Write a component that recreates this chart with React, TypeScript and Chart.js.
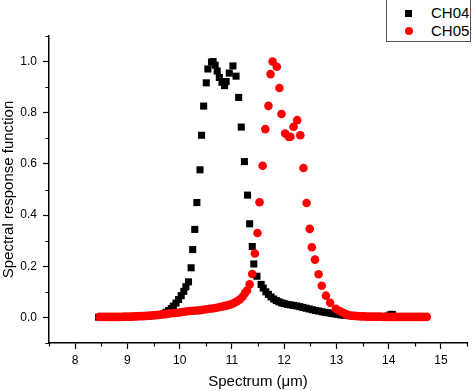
import { useEffect, useRef } from "react";
import { Chart, registerables } from "chart.js";

Chart.register(...registerables);

// CH04 (black squares)
const ch04X = [
  8.45, 8.51, 8.57, 8.63, 8.69, 8.75, 8.81, 8.87, 8.93, 8.99,
  9.05, 9.11, 9.17, 9.23, 9.29, 9.35, 9.41, 9.47, 9.53, 9.59,
  9.64, 9.69, 9.74, 9.79, 9.84, 9.88, 9.93, 9.98, 10.03, 10.08,
  10.12, 10.17, 10.22, 10.25, 10.29, 10.33, 10.39, 10.42, 10.46, 10.51,
  10.54, 10.61, 10.64, 10.68, 10.72, 10.76, 10.81, 10.86, 10.89, 10.95,
  11.02, 11.08, 11.13, 11.18, 11.24, 11.3, 11.34, 11.39, 11.42, 11.48,
  11.56, 11.6, 11.65, 11.7, 11.75, 11.8, 11.85, 11.9, 11.95, 12.0,
  12.06, 12.12, 12.18, 12.24, 12.3, 12.36, 12.42, 12.48, 12.54, 12.6,
  12.66, 12.72, 12.78, 12.84, 12.9, 12.96, 13.02, 13.08, 13.14, 13.2,
  13.26, 13.32, 13.38, 13.44, 13.5, 13.56, 13.62, 13.68, 13.74, 13.8,
  13.86, 13.92, 13.98, 14.03, 14.07,
];
const ch04Y = [
  0.001, 0.001, 0.001, 0.001, 0.001, 0.001, 0.002, 0.002, 0.002, 0.003,
  0.003, 0.003, 0.004, 0.004, 0.005, 0.005, 0.006, 0.007, 0.008, 0.009,
  0.011, 0.014, 0.02, 0.027, 0.035, 0.044, 0.056, 0.07, 0.085, 0.102,
  0.12, 0.139, 0.194, 0.265, 0.344, 0.449, 0.577, 0.712, 0.826, 0.917,
  0.971, 0.998, 1.0, 0.986, 0.963, 0.938, 0.919, 0.906, 0.922, 0.955,
  0.983, 0.943, 0.86, 0.744, 0.609, 0.478, 0.366, 0.277, 0.209, 0.161,
  0.129, 0.115, 0.1, 0.09, 0.08, 0.072, 0.066, 0.061, 0.057, 0.054,
  0.051, 0.049, 0.047, 0.045, 0.042, 0.039, 0.036, 0.033, 0.03, 0.027,
  0.025, 0.022, 0.02, 0.018, 0.016, 0.014, 0.012, 0.01, 0.009, 0.008,
  0.007, 0.006, 0.005, 0.005, 0.004, 0.004, 0.003, 0.003, 0.003, 0.003,
  0.003, 0.003, 0.005, 0.01, 0.012,
];

// CH05 (red circles)
const ch05X = [
  8.47, 8.53, 8.59, 8.65, 8.71, 8.77, 8.83, 8.89, 8.95, 9.01,
  9.07, 9.13, 9.19, 9.25, 9.31, 9.37, 9.43, 9.49, 9.55, 9.61,
  9.67, 9.73, 9.79, 9.85, 9.91, 9.97, 10.03, 10.09, 10.15, 10.21,
  10.27, 10.33, 10.39, 10.45, 10.51, 10.57, 10.63, 10.69, 10.75, 10.81,
  10.87, 10.93, 10.99, 11.05, 11.1, 11.15, 11.2, 11.25, 11.29, 11.34,
  11.39, 11.44, 11.49, 11.53, 11.59, 11.64, 11.7, 11.74, 11.78, 11.86,
  11.91, 11.95, 12.02, 12.09, 12.12, 12.18, 12.25, 12.31, 12.37, 12.43,
  12.49, 12.53, 12.59, 12.66, 12.72, 12.8, 12.88, 12.99, 13.06, 13.12,
  13.18, 13.23, 13.29, 13.35, 13.41, 13.47, 13.53, 13.59, 13.65, 13.71,
  13.77, 13.83, 13.89, 13.95, 14.01, 14.07, 14.13, 14.19, 14.25, 14.31,
  14.37, 14.43, 14.49, 14.55, 14.61, 14.67, 14.73,
];
const ch05Y = [
  0.002, 0.002, 0.002, 0.002, 0.002, 0.002, 0.002, 0.002, 0.003, 0.003,
  0.003, 0.004, 0.004, 0.005, 0.005, 0.006, 0.007, 0.008, 0.009, 0.01,
  0.012, 0.013, 0.015, 0.016, 0.017, 0.018, 0.02, 0.022, 0.024, 0.025,
  0.026, 0.027, 0.028, 0.03, 0.032, 0.034, 0.035, 0.037, 0.04, 0.042,
  0.045, 0.048, 0.052, 0.057, 0.063, 0.07, 0.08, 0.095, 0.105, 0.129,
  0.17, 0.25, 0.33, 0.45, 0.593, 0.736, 0.827, 0.951, 1.0, 0.98,
  0.897, 0.795, 0.719, 0.705, 0.706, 0.745, 0.771, 0.712, 0.584, 0.447,
  0.346, 0.274, 0.226, 0.169, 0.124, 0.085, 0.057, 0.034, 0.025, 0.019,
  0.013, 0.009, 0.007, 0.006, 0.005, 0.004, 0.004, 0.003, 0.003, 0.003,
  0.003, 0.003, 0.002, 0.002, 0.002, 0.002, 0.002, 0.002, 0.002, 0.002,
  0.002, 0.002, 0.002, 0.002, 0.002, 0.002, 0.002,
];

const seriesLabels = ["CH04", "CH05"];
const xTickValues = [8, 9, 10, 11, 12, 13, 14, 15];
const yTickValues = [0, 0.2, 0.4, 0.6, 0.8, 1.0];
const xTitle = "Spectrum (μm)";
const yTitle = "Spectral response function";

const FONT = "'Liberation Sans', Arial, Helvetica, sans-serif";

const minorTicks = {
  id: "minorTicks",
  afterDraw(chart: any) {
    const { ctx, scales } = chart;
    const x = scales.x;
    const y = scales.y;
    ctx.save();
    ctx.strokeStyle = "#000";
    ctx.lineWidth = 1.2;
    ctx.beginPath();
    for (let v = 7.5; v <= 15.5 + 1e-9; v += 1) {
      const px = Math.round(x.getPixelForValue(v)) + 0.5;
      ctx.moveTo(px, x.top);
      ctx.lineTo(px, x.top + 3.5);
    }
    for (let v = -0.1; v <= 1.1 + 1e-9; v += 0.2) {
      const py = Math.round(y.getPixelForValue(v)) + 0.5;
      ctx.moveTo(y.right, py);
      ctx.lineTo(y.right - 3.5, py);
    }
    ctx.stroke();
    ctx.restore();
  },
};

export default function App() {
  const ref = useRef<HTMLCanvasElement>(null);

  useEffect(() => {
    document.body.style.margin = "0";
    const chart = new Chart(ref.current as HTMLCanvasElement, {
      type: "scatter",
      data: {
        datasets: [
          {
            label: seriesLabels[0],
            data: ch04X.map((x, i) => ({ x, y: ch04Y[i] })),
            pointStyle: "rect",
            pointRadius: 5,
            pointHoverRadius: 5,
            backgroundColor: "#000",
            borderColor: "#000",
            borderWidth: 0,
            order: 2,
          },
          {
            label: seriesLabels[1],
            data: ch05X.map((x, i) => ({ x, y: ch05Y[i] })),
            pointStyle: "circle",
            pointRadius: 4.3,
            pointHoverRadius: 4.3,
            backgroundColor: "#f00",
            borderColor: "#f00",
            borderWidth: 0,
            order: 1,
          },
        ],
      },
      options: {
        responsive: false,
        animation: false,
        devicePixelRatio: 1,
        layout: { padding: { top: 36, right: 7, left: 0, bottom: 0 } },
        plugins: {
          legend: { display: false },
          tooltip: { enabled: false },
        },
        scales: {
          x: {
            type: "linear",
            min: 7.5,
            max: 15.5,
            afterFit: (s: any) => {
              s.height = 48;
            },
            afterBuildTicks: (s: any) => {
              s.ticks = xTickValues.map((value) => ({ value }));
            },
            ticks: {
              padding: 4,
              color: "#000",
              maxRotation: 0,
              autoSkip: false,
              font: { family: FONT, size: 12 },
              callback: (v: any) => String(v),
            },
            grid: {
              drawOnChartArea: false,
              drawTicks: true,
              tickLength: 6,
              tickColor: "#000",
              tickWidth: 1.2,
            },
            border: { display: true, color: "#000", width: 1.5 },
            title: {
              display: true,
              text: xTitle,
              color: "#000",
              padding: { top: 0, bottom: 0 },
              font: { family: FONT, size: 15 },
            },
          },
          y: {
            type: "linear",
            min: -0.1,
            max: 1.1,
            afterFit: (s: any) => {
              s.width = 49;
            },
            afterBuildTicks: (s: any) => {
              s.ticks = yTickValues.map((value) => ({ value }));
            },
            ticks: {
              padding: 6,
              color: "#000",
              autoSkip: false,
              font: { family: FONT, size: 12 },
              callback: (v: any) => Number(v).toFixed(1),
            },
            grid: {
              drawOnChartArea: false,
              drawTicks: true,
              tickLength: 6,
              tickColor: "#000",
              tickWidth: 1.2,
            },
            border: { display: true, color: "#000", width: 1.5 },
            title: {
              display: true,
              text: yTitle,
              color: "#000",
              padding: { top: 0, bottom: 0 },
              font: { family: FONT, size: 15 },
            },
          },
        },
      },
      plugins: [minorTicks],
    } as any);
    return () => chart.destroy();
  }, []);

  return (
    <div style={{ position: "relative", width: 474, height: 391, background: "#fff" }}>
      <canvas ref={ref} width={474} height={391} style={{ display: "block" }} />
      <div
        style={{
          position: "absolute",
          left: 386,
          top: -1,
          width: 83,
          height: 41,
          border: "1px solid #555",
          background: "#fff",
          fontFamily: FONT,
          fontSize: 15,
          color: "#000",
        }}
      >
        <div style={{ position: "absolute", left: 18, top: 10, width: 7, height: 7, background: "#000" }} />
        <div style={{ position: "absolute", left: 44, top: 4, lineHeight: "17px" }}>{seriesLabels[0]}</div>
        <div style={{ position: "absolute", left: 17.5, top: 27, width: 8, height: 8, borderRadius: "50%", background: "#f00" }} />
        <div style={{ position: "absolute", left: 44, top: 22, lineHeight: "17px" }}>{seriesLabels[1]}</div>
      </div>
    </div>
  );
}
